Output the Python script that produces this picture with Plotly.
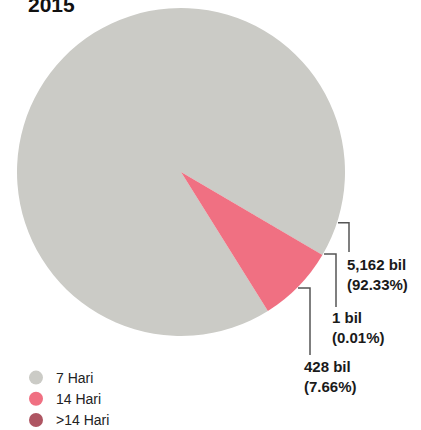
import plotly.graph_objects as go
import math

title = "2015"
categories = ["7 Hari", "14 Hari", ">14 Hari"]
values = [5162, 428, 1]
value_labels = ["5,162 bil", "428 bil", "1 bil"]
pct_labels = ["(92.33%)", "(7.66%)", "(0.01%)"]
colors = ["#cbcbc6", "#f07082", "#ae5562"]

W, H = 421, 430
FONT = "Liberation Sans, Arial, sans-serif"

def px(x):
    return x / W

def py(y):
    return 1 - y / H

# pie geometry (pixels)
cx, cy, r = 181, 172, 164
rotation = 148

fig = go.Figure()
fig.add_trace(go.Pie(
    labels=categories, values=values, sort=False, direction="counterclockwise",
    rotation=rotation, marker=dict(colors=colors, line=dict(width=0)),
    textinfo="none", hoverinfo="label+value+percent", showlegend=False,
    domain=dict(x=[px(cx - r), px(cx + r)], y=[py(cy + r), py(cy - r)]),
))

# legend via circle markers
for c, col in zip(categories, colors):
    fig.add_trace(go.Scatter(x=[None], y=[None], mode="markers", name=c,
                             marker=dict(color=col, size=14, symbol="circle")))

# label layout: (start angle in deg below east, elbow x, label top y, text x)
label_layout = {
    0: dict(ang=18, ex=349, ey=252, tx=345, ty=254),
    2: dict(ang=30, ex=336, ey=307, tx=330, ty=307),
    1: dict(ang=45, ex=310, ey=355, tx=302, ty=356),
}
shapes = []
annotations = []
for i, L in label_layout.items():
    a = math.radians(L["ang"])
    sx, sy = cx + r * math.cos(a) + 1, cy + r * math.sin(a)
    path = f"M {px(sx)},{py(sy)} L {px(L['ex'])},{py(sy)} L {px(L['ex'])},{py(L['ey'])}"
    shapes.append(dict(type="path", path=path, xref="paper", yref="paper",
                       line=dict(color="#555555", width=1.5)))
    annotations.append(dict(
        x=px(L["tx"]), y=py(L["ty"]), xref="paper", yref="paper",
        xanchor="left", yanchor="top", align="left", showarrow=False,
        text=f"<b>{value_labels[i]}<br>{pct_labels[i]}</b>",
        font=dict(family=FONT, size=15, color="#1a1a1a"),
    ))

annotations.append(dict(
    x=px(26), y=py(18), xref="paper", yref="paper", xanchor="left", yanchor="bottom",
    showarrow=False, text=f"<b>{title}</b>", font=dict(family=FONT, size=21, color="#111111"),
))

fig.update_layout(
    width=W, height=H, margin=dict(l=0, r=0, t=0, b=0, autoexpand=False),
    paper_bgcolor="white", plot_bgcolor="white",
    xaxis=dict(visible=False), yaxis=dict(visible=False),
    shapes=shapes, annotations=annotations,
    legend=dict(x=px(16), y=py(362), xanchor="left", yanchor="top",
                font=dict(family=FONT, size=14, color="#222222"),
                tracegroupgap=0, itemwidth=30, bgcolor="rgba(0,0,0,0)"),
)

fig.write_html("out.html", config={"displayModeBar": False},
               post_script="document.body.style.margin='0';document.body.style.overflow='hidden';")
